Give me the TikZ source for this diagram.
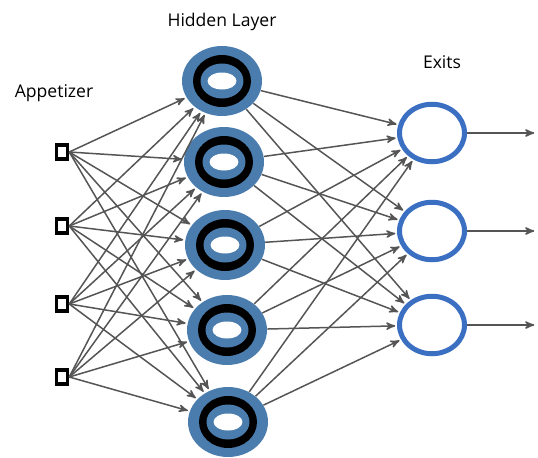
\documentclass[tikz,border=0pt]{standalone}
\usepackage{fontspec}
\setmainfont{Open Sans}
\usepackage{xcolor}
\usetikzlibrary{arrows,shapes.geometric}
\definecolor{hidblue}{HTML}{4A7DAE}
\definecolor{exitblue}{HTML}{3B6FC2}
\definecolor{wiregray}{HTML}{555555}

\begin{document}
\begin{tikzpicture}[x=0.02cm,y=-0.02cm,>=stealth',
    inp/.style={draw=black,line width=0.7mm,fill=white,minimum width=2.2mm,minimum height=2.8mm,inner sep=0pt},
    hid/.style={ellipse,fill=hidblue,minimum width=16mm,minimum height=14mm,inner sep=0pt,
        path picture={
            \fill[black] (path picture bounding box.center) ellipse (5.8mm and 5.2mm);
            \fill[hidblue] (path picture bounding box.center) ellipse (4.3mm and 3.5mm);
            \fill[white] (path picture bounding box.center) ellipse (2.9mm and 1.7mm);
        }},
    exit/.style={ellipse,draw=exitblue,line width=1mm,fill=white,minimum width=13mm,minimum height=11.5mm,inner sep=0pt},
    wire/.style={->,draw=wiregray,line width=0.3mm,shorten >=1pt},
    lbl/.style={font=\fontsize{10}{12}\selectfont}]

    \useasboundingbox (0,0) rectangle (538,457);

    % labels
    \node [lbl] at (54,93) (tin) {Appetizer};
    \node [lbl] at (222,22) (thid) {Hidden Layer};
    \node [lbl] at (442,62) (tout) {Exits};

    % input units
    \node [inp] at (62,152) (i1) {};
    \node [inp] at (62,226) (i2) {};
    \node [inp] at (62,304) (i3) {};
    \node [inp] at (62,377) (i4) {};

    % hidden units
    \node [hid] at (222,81) (h1) {};
    \node [hid] at (224,162) (h2) {};
    \node [hid] at (225,245) (h3) {};
    \node [hid] at (227,330) (h4) {};
    \node [hid] at (228,422) (h5) {};

    % exit units
    \node [exit] at (432,133) (o1) {};
    \node [exit] at (432,231) (o2) {};
    \node [exit] at (432,325) (o3) {};

    \coordinate (e1) at (536,133);
    \coordinate (e2) at (536,231);
    \coordinate (e3) at (536,325);

    % connections
    \foreach \i in {1,...,4}
        \foreach \h in {1,...,5}
            \draw [wire] (i\i.east) -- (h\h);

    \foreach \h in {1,...,5}
        \foreach \o in {1,...,3}
            \draw [wire] (h\h) -- (o\o);

    \foreach \o in {1,...,3}
        \draw [wire] (o\o) -- (e\o);

\end{tikzpicture}
\end{document}
